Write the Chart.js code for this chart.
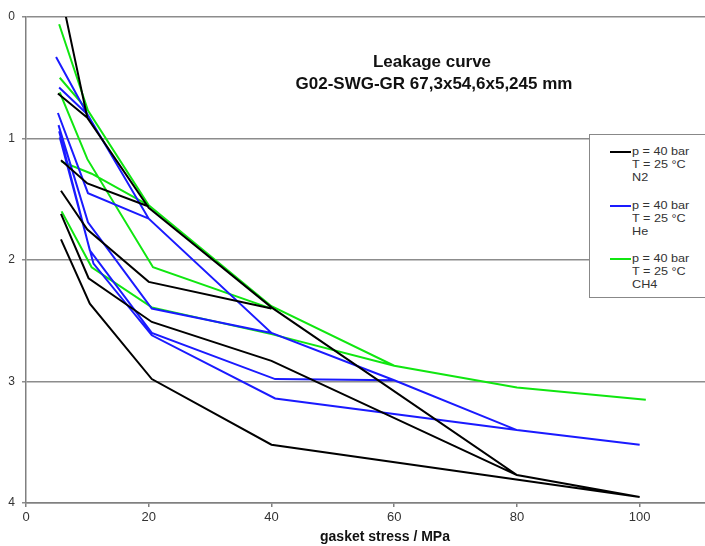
<!DOCTYPE html>
<html>
<head>
<meta charset="utf-8">
<script src="https://cdn.jsdelivr.net/npm/chart.js@4.4.1/dist/chart.umd.min.js"></script>
<style>
    html, body { margin: 0; padding: 0; background: #fff; overflow: hidden; }
    .wrap { position: relative; width: 705px; height: 546px; overflow: hidden; }
    .chart-box { position: absolute; left: 0; top: 0; width: 746px; height: 546px; }
    .chart-title { position: absolute; font-family: "Liberation Sans", Arial, sans-serif; font-weight: bold; font-size: 17px; color: #111; white-space: nowrap; transform: translateX(-50%); }
    .legend-box { position: absolute; left: 589px; top: 134px; width: 130px; height: 162px; border: 1px solid #888; background: #fff; font-family: "Liberation Sans", Arial, sans-serif; font-size: 11px; color: #333; }
    .legend-item { position: absolute; left: 20px; }
    .legend-item .swatch { position: absolute; left: 0; top: 6px; width: 21px; height: 2px; }
    .legend-item .txt { position: absolute; left: 22px; top: 0; line-height: 13px; white-space: nowrap; transform: scaleX(1.15); transform-origin: left top; }
</style>
</head>
<body>
<div class="wrap">
    <div class="chart-box"><canvas id="leakChart" width="746" height="546"></canvas></div>
    <div class="chart-title" style="left:432px; top:52px;">Leakage curve</div>
    <div class="chart-title" style="left:434px; top:74px;">G02-SWG-GR 67,3x54,6x5,245 mm</div>
    <div class="legend-box" id="legend"></div>
</div>
<script>
// gasket stress (MPa) / leakage value, one loading path + unloading runs, split by null
const n2Stress = [5, 10, 20, 40, 80, 100, null,
                  10, 5.2, null,
                  20, 10, 5.7, null,
                  40, 20, 10, 5.7, null,
                  80, 40, 20.5, 10.2, 5.7, null,
                  100, 40, 20.5, 10.4, 5.7];
const n2Leak = [-0.36, 0.83, 1.57, 2.39, 3.77, 3.95, null,
                0.83, 0.63, null,
                1.56, 1.37, 1.18, null,
                2.4, 2.18, 1.75, 1.43, null,
                3.77, 2.83, 2.51, 2.15, 1.62, null,
                3.95, 3.52, 2.98, 2.36, 1.83];

const heStress = [4.9, 10, 20, 40, 60, 80, 100, null,
                  10, 5.4, null,
                  20, 10.1, 5.2, null,
                  40, 20.5, 10.1, 5.3, null,
                  60, 40.6, 20.5, 10.4, 5.4, null,
                  80, 40.6, 20.5, 11, 5.5];
const heLeak = [0.33, 0.8, 1.66, 2.6, 2.99, 3.4, 3.52, null,
                0.8, 0.58, null,
                1.66, 1.45, 0.79, null,
                2.6, 2.4, 1.69, 0.89, null,
                2.99, 2.98, 2.6, 1.92, 0.94, null,
                3.4, 3.14, 2.62, 2.03, 0.99];

const ch4Stress = [5.4, 10.1, 20, 40, 60, 80, 101, null,
                   10.1, 5.5, null,
                   20, 10.7, 5.8, null,
                   40, 20.7, 10, 5.5, null,
                   60, 40, 20.5, 10.7, 5.8];
const ch4Leak = [0.06, 0.77, 1.55, 2.38, 2.87, 3.05, 3.15, null,
                 0.77, 0.5, null,
                 1.55, 1.29, 1.19, null,
                 2.4, 2.06, 1.17, 0.62, null,
                 2.87, 2.61, 2.39, 2.06, 1.6];

const xTicks = [0, 20, 40, 60, 80, 100];
const yTicks = [0, 1, 2, 3, 4];
const legendLines = ['p = 40 bar', 'T = 25 °C'];
const gasNames = ['N2', 'He', 'CH4'];
const gasColors = ['#000000', '#1a1aff', '#10e610'];

function toPoints(xs, ys) {
    return xs.map((x, i) => x === null ? { x: 0, y: null } : { x: x, y: ys[i] });
}

const series = [toPoints(n2Stress, n2Leak), toPoints(heStress, heLeak), toPoints(ch4Stress, ch4Leak)];

const ctx = document.getElementById('leakChart').getContext('2d');
new Chart(ctx, {
    type: 'scatter',
    data: {
        datasets: series.map((pts, i) => ({
            label: gasNames[i],
            data: pts,
            showLine: true,
            spanGaps: false,
            borderColor: gasColors[i],
            backgroundColor: gasColors[i],
            borderWidth: 2,
            pointRadius: 0,
            tension: 0
        }))
    },
    options: {
        responsive: false,
        animation: false,
        layout: { padding: { top: 17, right: 2, left: 0, bottom: 0 } },
        plugins: { legend: { display: false }, tooltip: { enabled: false } },
        scales: {
            x: {
                type: 'linear', min: 0, max: 117,
                afterFit: s => { s.height = 43; },
                afterBuildTicks: s => { s.ticks = xTicks.map(v => ({ value: v })); },
                grid: { drawOnChartArea: false, drawTicks: true, tickLength: 4, color: '#808080', lineWidth: 1.5 },
                border: { color: '#808080', width: 1.5 },
                ticks: { color: '#333', font: { family: 'Liberation Sans', size: 13 }, padding: 3, maxRotation: 0 },
                title: { display: true, text: 'gasket stress / MPa', color: '#111', font: { family: 'Liberation Sans', size: 14, weight: 'bold' }, padding: { top: 0, bottom: 0 } }
            },
            y: {
                type: 'linear', min: 0, max: 4, reverse: true,
                afterFit: s => { s.width = 26; },
                afterBuildTicks: s => { s.ticks = yTicks.map(v => ({ value: v })); },
                grid: { color: '#8c8c8c', lineWidth: 1.5, tickLength: 4 },
                border: { color: '#808080', width: 1.5 },
                ticks: { color: '#333', font: { family: 'Liberation Sans', size: 12 }, padding: 7 }
            }
        }
    }
});

// --- Legend (three-line entries like the original) ---
const legend = document.getElementById('legend');
gasNames.forEach((name, i) => {
    const item = document.createElement('div');
    item.className = 'legend-item';
    item.style.top = (10 + i * 53.5) + 'px';
    item.innerHTML = '<span class="swatch" style="background:' + gasColors[i] + '"></span>' +
        '<span class="txt">' + legendLines.concat([name]).join('<br>') + '</span>';
    legend.appendChild(item);
});
</script>
</body>
</html>
